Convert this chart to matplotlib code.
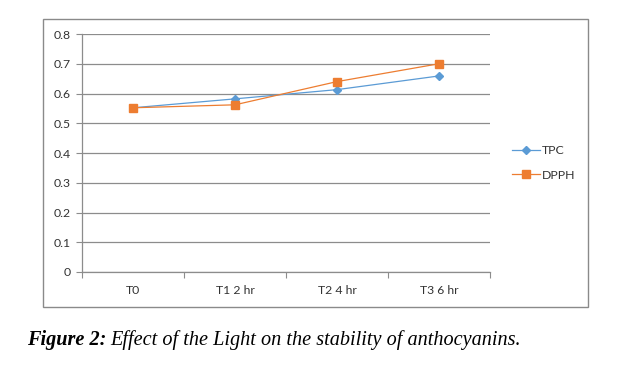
import numpy as np
import matplotlib
matplotlib.use('Agg')
import matplotlib.pyplot as plt
from matplotlib.patches import Rectangle

categories = ['T0', 'T1 2 hr', 'T2 4 hr', 'T3 6 hr']
tpc = [0.552, 0.582, 0.613, 0.659]
dpph = [0.552, 0.562, 0.640, 0.700]
yticks = [0, 0.1, 0.2, 0.3, 0.4, 0.5, 0.6, 0.7, 0.8]
caption_bold = 'Figure 2:'
caption_rest = 'Effect of the Light on the stability of anthocyanins.'

W, H = 619, 366
BLUE = '#5b9bd5'
ORANGE = '#ed7d31'
GRID = '#8c8c8c'
FS = 8.8

plt.rcParams['font.family'] = ['Lato', 'DejaVu Sans']

fig = plt.figure(figsize=(W / 100, H / 100), dpi=100)

# outer chart frame
fig.patches.append(Rectangle((43 / W, 1 - 307 / H), (588 - 43) / W, (307 - 19) / H,
                             transform=fig.transFigure, fill=False,
                             edgecolor='#8a8a8a', linewidth=1.0))

ax = fig.add_axes([82 / W, 1 - 272 / H, (490 - 82) / W, (272 - 34) / H])
x = np.arange(len(categories))
ax.plot(x, tpc, color=BLUE, lw=0.9, marker='D', ms=4.5, mec=BLUE, mfc=BLUE, label='TPC', zorder=3)
ax.plot(x, dpph, color=ORANGE, lw=0.9, marker='s', ms=6, mec=ORANGE, mfc=ORANGE, label='DPPH', zorder=4)

ax.set_xlim(-0.5, len(categories) - 0.5)
ax.set_ylim(0, 0.8)
ax.set_yticks(yticks)
ax.set_yticklabels([f'{v:g}' for v in yticks])
ax.yaxis.grid(True, color=GRID, linewidth=0.9)
ax.set_axisbelow(True)

ax.set_xticks(np.arange(-0.5, len(categories)), minor=False)
ax.set_xticklabels([])
ax.set_xticks(x, minor=True)
ax.set_xticklabels(categories, minor=True)
ax.tick_params(axis='x', which='major', length=4, color=GRID, direction='out')
ax.tick_params(axis='x', which='minor', length=0, pad=9, labelsize=FS, labelcolor='#333333')
ax.tick_params(axis='y', length=4, color=GRID, pad=4, labelsize=FS, labelcolor='#333333')

for side in ['top', 'right']:
    ax.spines[side].set_visible(False)
for side in ['left', 'bottom']:
    ax.spines[side].set_color(GRID)
    ax.spines[side].set_linewidth(0.9)

fig.legend(loc='center left', bbox_to_anchor=(506 / W, 1 - 163 / H), frameon=False,
           fontsize=FS, labelspacing=1.1, handlelength=2.3, handletextpad=0.15,
           borderpad=0, labelcolor='#333333')

# caption
t1 = fig.text(27 / W, 1 - 340 / H, caption_bold, fontsize=14.6, family='Liberation Serif',
              weight='bold', style='italic', va='center', ha='left')
fig.canvas.draw()
bb = t1.get_window_extent()
fig.text((bb.x1 + 4) / W, 1 - 340 / H, caption_rest, fontsize=14.6, family='Liberation Serif',
         style='italic', va='center', ha='left')

fig.savefig('out.png', dpi=100)
